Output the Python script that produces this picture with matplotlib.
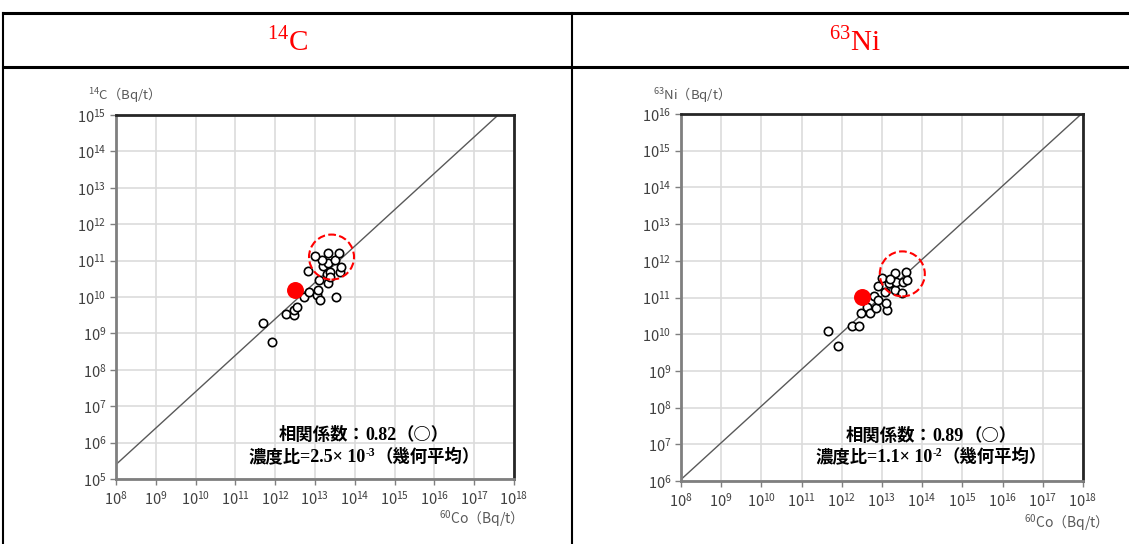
import matplotlib
matplotlib.use("Agg")
import matplotlib.pyplot as plt
from matplotlib.lines import Line2D
from matplotlib.ticker import LogLocator, NullLocator, LogFormatterMathtext
import numpy as np

plt.rcParams['font.family'] = ['Noto Sans CJK JP', 'DejaVu Sans']

# ---------------- data ----------------
panel_titles = ["14", "63"]
panel_title_elems = ["C", "Ni"]

# 14C vs 60Co (Bq/t)
c14_co60 = [4.8e11, 8.3e11, 1.9e12, 2.9e12, 2.9e12, 3.5e12, 5.4e12, 7.2e12, 1.15e13, 1.2e13,
            1.35e13, 3.4e13, 1.26e13, 2.1e13, 6.8e12, 1.95e13, 2.4e13, 4.3e13, 1.6e13, 4.5e13,
            2.1e13, 1.5e13, 3.2e13, 1.0e13, 2.1e13, 4.1e13, 2.4e13]
c14_val = [1.9e9, 5.9e8, 3.5e9, 3.2e9, 4.4e9, 5.4e9, 9.8e9, 1.4e10, 1.1e10, 1.55e10,
           8.3e9, 9.8e9, 2.95e10, 2.4e10, 5.2e10, 4.2e10, 5.0e10, 4.8e10, 7.2e10, 6.8e10,
           8.7e10, 1.05e11, 1.05e11, 1.35e11, 1.6e11, 1.6e11, 3.5e10]
c14_red = (3.2e12, 1.55e10)
c14_circle = (2.6e13, 1.25e11)
c14_ratio = 2.5e-3
c14_corr = "0.82"
c14_ratio_mant, c14_ratio_exp = "2.5", "-3"

# 63Ni vs 60Co (Bq/t)
ni63_co60 = [4.6e11, 8.1e11, 1.8e12, 2.7e12, 2.95e12, 4.2e12, 5.0e12, 6.9e12, 1.3e13, 1.25e13,
             6.5e12, 1.2e13, 2.1e13, 3.2e13, 7.8e12, 1.5e13, 2.2e13, 3.4e13, 9.8e12, 2.1e13,
             3.9e13, 4.1e13, 1.6e13, 7.9e12]
ni63_val = [1.25e10, 4.9e9, 1.7e10, 1.7e10, 3.9e10, 5.6e10, 3.9e10, 5.1e10, 4.6e10, 7.2e10,
            1.1e11, 1.45e11, 1.6e11, 1.3e11, 2.0e11, 2.45e11, 2.7e11, 2.7e11, 3.5e11, 4.6e11,
            4.9e11, 3.0e11, 3.1e11, 8.5e10]
ni63_red = (3.2e12, 1.05e11)
ni63_circle = (3.2e13, 4.4e11)
ni63_ratio = 1.1e-2
ni63_corr = "0.89"
ni63_ratio_mant, ni63_ratio_exp = "1.1", "-2"

x_limits = (1e8, 1e18)
c14_ylim = (1e5, 1e15)
ni63_ylim = (1e6, 1e16)

# ---------------- figure ----------------
W, H = 1129, 544
fig = plt.figure(figsize=(W / 100, H / 100), dpi=100)
fig.patch.set_facecolor("white")
renderer = fig.canvas.get_renderer()

def fx(px):
    return px / W

def fy(py):
    return 1 - py / H

# table lines
for (x0, y0, x1, y1, lw) in [(3, 13, W, 13, 2.2), (3, 67, W, 67, 2.2),
                             (3, 13, 3, H, 1.5), (572, 13, 572, H, 1.5)]:
    fig.add_artist(Line2D([fx(x0), fx(x1)], [fy(y0), fy(y1)], color="black", lw=lw))

# header titles
for cx, num, el in [(288, panel_titles[0], panel_title_elems[0]), (855, panel_titles[1], panel_title_elems[1])]:
    fig.text(fx(cx), fy(41), r"$^{\mathregular{" + num + "}}$" + el, color="#ff0000",
             family=["Liberation Serif", "DejaVu Serif"], fontsize=21, ha="center", va="center")

SERIF = ["Liberation Serif", "Noto Sans CJK JP", "DejaVu Sans"]
GOTH = ["Noto Sans CJK JP", "DejaVu Sans"]

def segment_line(cx_px, cy_px, segments):
    """segments: list of (text, family, fontsize, dy_px)"""
    arts = []
    widths = []
    for txt, fam, fs, dy in segments:
        a = fig.text(0, 0, txt, family=fam, fontsize=fs, fontweight="bold",
                     color="black", ha="left", va="baseline")
        bb = a.get_window_extent(renderer=renderer)
        arts.append((a, dy))
        widths.append(bb.width)
    total = sum(widths)
    x = cx_px - total / 2
    base = cy_px + 5  # baseline approx below centre (pixels, from top)
    for (a, dy), w in zip(arts, widths):
        a.set_position((fx(x), fy(base - dy)))
        x += w

panels = [
    dict(rect=(116, 115, 514, 479), x=c14_co60, y=c14_val, red=c14_red, circ=c14_circle,
         ratio=c14_ratio, ylim=c14_ylim, ylab=r"$^{\mathregular{14}}$C（Bq/t）",
         corr=c14_corr, mant=c14_ratio_mant, exp=c14_ratio_exp,
         ylab_pos=(88, 95), xlab_pos=(516, 519), text_cx=364, text_y=(435, 457)),
    dict(rect=(681, 114, 1083, 481), x=ni63_co60, y=ni63_val, red=ni63_red, circ=ni63_circle,
         ratio=ni63_ratio, ylim=ni63_ylim, ylab=r"$^{\mathregular{63}}$Ni（Bq/t）",
         corr=ni63_corr, mant=ni63_ratio_mant, exp=ni63_ratio_exp,
         ylab_pos=(653, 95), xlab_pos=(1101, 523), text_cx=931, text_y=(436, 457)),
]

for p in panels:
    l, t, r, b = p["rect"]
    ax = fig.add_axes([fx(l), fy(b), fx(r) - fx(l), fy(t) - fy(b)])
    ax.set_xscale("log")
    ax.set_yscale("log")
    ax.set_xlim(*x_limits)
    ax.set_ylim(*p["ylim"])
    ax.xaxis.set_major_locator(LogLocator(base=10, numticks=20))
    ax.yaxis.set_major_locator(LogLocator(base=10, numticks=20))
    ax.xaxis.set_minor_locator(NullLocator())
    ax.yaxis.set_minor_locator(NullLocator())
    ax.xaxis.set_major_formatter(LogFormatterMathtext())
    ax.yaxis.set_major_formatter(LogFormatterMathtext())
    ax.grid(True, color="#dcdcdc", lw=1.2)
    ax.set_axisbelow(True)
    ax.tick_params(axis="both", labelsize=10.5, colors="#404040", length=4, width=1,
                   direction="out", color="#7f7f7f")
    ax.tick_params(axis="x", pad=4)
    ax.tick_params(axis="y", pad=3)
    for s in ["left", "bottom"]:
        ax.spines[s].set_color("#7f7f7f")
        ax.spines[s].set_linewidth(2)
    for s in ["top", "right"]:
        ax.spines[s].set_color("#262626")
        ax.spines[s].set_linewidth(2)

    xl = np.array(x_limits)
    ax.plot(xl, p["ratio"] * xl, color="#595959", lw=1.0, zorder=2)
    ax.scatter(p["x"], p["y"], s=36, facecolors="white", edgecolors="black",
               linewidths=1.2, zorder=3)
    ax.scatter([p["red"][0]], [p["red"][1]], s=125, color="#ff0000", zorder=4)
    ax.scatter([p["circ"][0]], [p["circ"][1]], s=1050, facecolors="none",
               edgecolors="#ff0000", linewidths=1.5, linestyle="--", zorder=5)

    fig.text(fx(p["ylab_pos"][0]), fy(p["ylab_pos"][1]), p["ylab"], color="#595959",
             fontsize=9.5, ha="left", va="center")
    fig.text(fx(p["xlab_pos"][0]), fy(p["xlab_pos"][1]), r"$^{\mathregular{60}}$Co（Bq/t）",
             color="#595959", fontsize=10, ha="right", va="center")

    fs = 12.5
    segment_line(p["text_cx"], p["text_y"][0], [
        ("相関係数：", GOTH, fs, 0),
        (p["corr"], SERIF, fs + 0.5, 0),
        ("（○）", GOTH, fs, 0),
    ])
    segment_line(p["text_cx"], p["text_y"][1], [
        ("濃度比", GOTH, fs, 0),
        ("=" + p["mant"] + "× 10", SERIF, fs + 0.5, 0),
        (p["exp"], SERIF, 8.5, 6),
        ("（幾何平均）", GOTH, fs, 0),
    ])

fig.savefig("out.png", dpi=100, facecolor="white")
